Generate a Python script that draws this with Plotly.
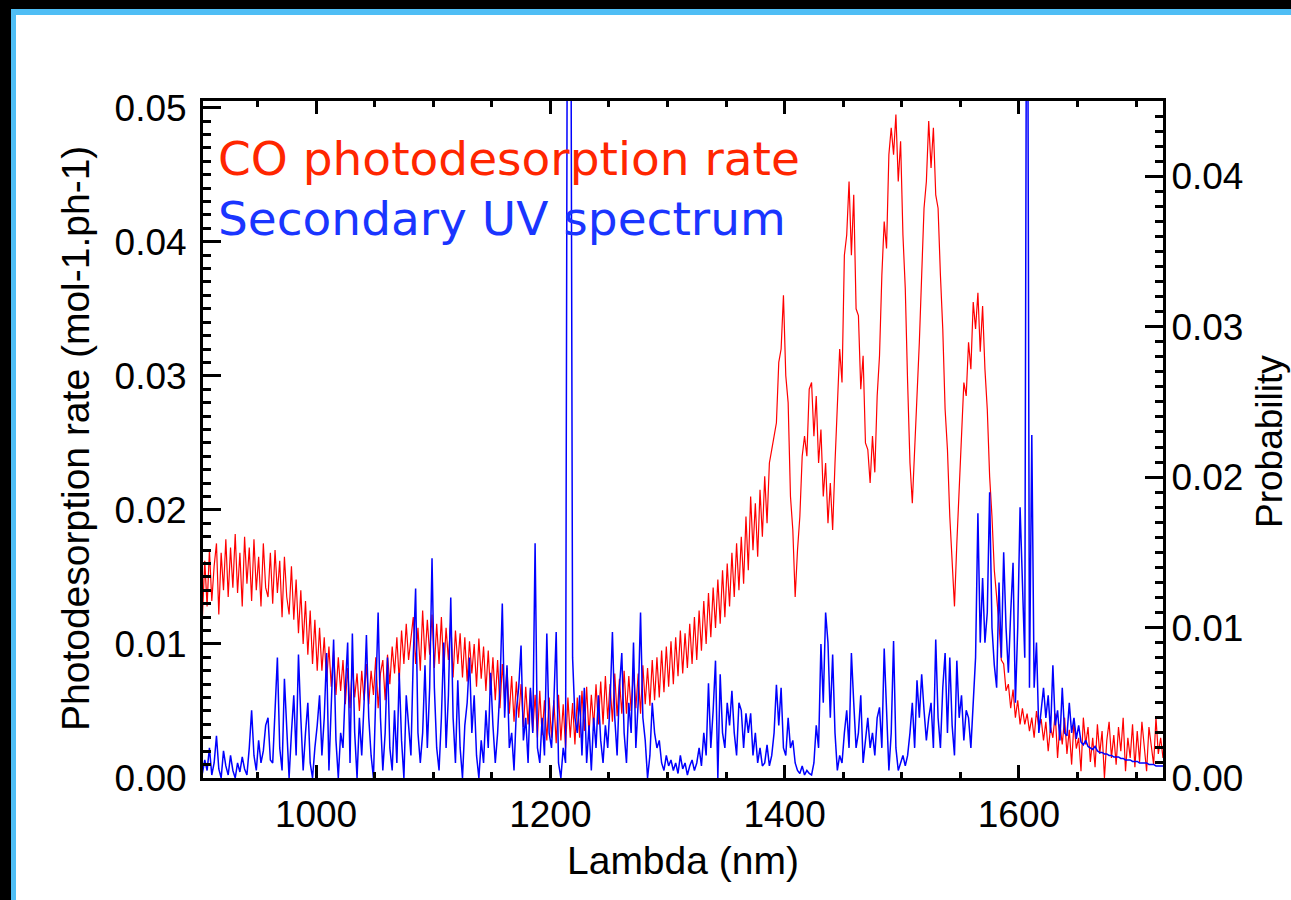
import plotly.graph_objects as go

# ---------------- data ----------------
# CO photodesorption rate, sampled every 2 nm from 903 nm (units of 1e-4 mol-1.ph-1)
RED_START_NM = 903
RED_STEP_NM = 2
red_rate_e4 = [
    120, 162, 128, 170, 132, 158, 175, 122, 168, 140,
    178, 135, 172, 142, 182, 138, 168, 128, 180, 145,
    172, 132, 178, 140, 165, 128, 175, 142, 135, 168,
    130, 170, 138, 162, 120, 165, 135, 122, 158, 118,
    148, 108, 140, 100, 132, 92, 125, 85, 118, 80,
    112, 80, 105, 72, 98, 68, 95, 62, 90, 65,
    88, 55, 82, 52, 85, 60, 78, 50, 80, 58,
    85, 55, 80, 62, 90, 52, 78, 88, 58, 92,
    70, 98, 78, 105, 72, 110, 85, 115, 88, 105,
    120, 85, 112, 80, 125, 88, 118, 92, 122, 82,
    115, 85, 120, 80, 112, 88, 118, 75, 110, 85,
    108, 75, 105, 72, 102, 78, 100, 68, 104, 74,
    98, 65, 95, 62, 90, 58, 88, 52, 85, 58,
    82, 48, 76, 42, 72, 45, 70, 38, 68, 40,
    66, 35, 62, 30, 65, 32, 58, 28, 60, 30,
    58, 26, 62, 28, 55, 22, 60, 30, 56, 25,
    60, 30, 65, 35, 68, 32, 62, 38, 70, 40,
    72, 40, 76, 44, 70, 42, 78, 46, 74, 48,
    80, 48, 76, 50, 82, 52, 78, 48, 84, 55,
    82, 54, 88, 58, 90, 60, 95, 64, 98, 68,
    102, 70, 105, 76, 110, 78, 108, 82, 115, 85,
    120, 88, 125, 95, 132, 100, 138, 105, 142, 112,
    148, 115, 155, 120, 160, 128, 168, 135, 175, 140,
    180, 145, 195, 155, 210, 170, 205, 165, 215, 180,
    225, 190, 235, 245, 255, 265, 310, 320, 360, 300,
    280, 210, 185, 135, 170, 195, 240, 255, 240, 290,
    295, 255, 285, 235, 260, 210, 235, 190, 220, 185,
    235, 275, 320, 295, 390, 405, 445, 390, 435, 350,
    345, 290, 315, 250, 245, 220, 255, 228, 285, 315,
    375, 415, 395, 465, 485, 465, 495, 445, 475, 405,
    365, 295, 235, 205, 245, 275, 325, 375, 425, 445,
    490, 455, 485, 435, 425, 375, 335, 275, 245, 195,
    165, 128, 175, 215, 265, 295, 285, 325, 305, 355,
    335, 362, 318, 352, 305, 275, 225, 195, 155, 135,
    115, 88, 85, 65, 70, 52, 66, 45, 58, 40,
    52, 40, 48, 35, 45, 30, 50, 38, 44, 28,
    42, 20, 38, 30, 48, 15, 40, 25, 45, 18,
    36, 10, 42, 22, 30, 5, 45, 25, 38, 12,
    30, 8, 40, 18, 35, 0, 28, 42, 15, 32,
    10, 38, 20, 45, 5, 30, 15, 40, 8, 35,
    12, 42, 20, 5, 38, 25, 10, 45, 18, 30,
    15,
]

# Secondary UV spectrum, sampled every 2 nm from 903 nm (probability, units of 1e-4)
BLUE_START_NM = 903
BLUE_STEP_NM = 2
blue_prob_e4 = [
    3, 12, 5, 20, 2, 10, 28, 6, 0, 18,
    8, 2, 15, 5, 0, 10, 4, 14, 6, 2,
    20, 45, 15, 5, 25, 10, 18, 35, 40, 12,
    10, 45, 80, 20, 5, 66, 30, 0, 30, 55,
    15, 82, 40, 5, 30, 50, 10, 0, 20, 35,
    55, 15, 40, 83, 5, 45, 92, 25, 0, 30,
    20, 60, 90, 10, 96, 30, 0, 40, 15, 50,
    95, 40, 15, 0, 60, 110, 40, 5, 30, 80,
    20, 5, 45, 10, 70, 25, 0, 55, 35, 15,
    80, 126, 30, 10, 30, 75, 20, 60, 146, 60,
    20, 5, 40, 90, 20, 55, 120, 40, 10, 65,
    20, 0, 35, 50, 80, 30, 55, 15, 0, 25,
    10, 45, 20, 70, 35, 10, 30, 60, 116, 40,
    75, 20, 30, 5, 45, 60, 88, 25, 40, 10,
    60, 30, 156, 20, 10, 40, 15, 96, 30, 20,
    50, 97, 10, 0, 20, 10, 700, 700, 80, 40,
    30, 55, 15, 60, 10, 35, 5, 40, 20, 55,
    25, 10, 35, 20, 50, 97, 40, 15, 60, 83,
    30, 10, 50, 30, 90, 20, 50, 110, 40, 25,
    0, 15, 50, 30, 20, 25, 10, 5, 15, 8,
    12, 5, 10, 3, 15, 6, 10, 2, 8, 12,
    5, 10, 20, 8, 30, 15, 63, 20, 45, 78,
    0, 69, 30, 20, 50, 35, 58, 30, 15, 50,
    45, 20, 43, 30, 43, 15, 30, 10, 20, 8,
    10, 22, 8, 15, 30, 62, 35, 60, 20, 15,
    40, 20, 25, 10, 5, 3, 8, 2, 5, 3,
    2, 10, 35, 20, 89, 50, 110, 90, 40, 82,
    30, 5, 15, 10, 30, 45, 20, 83, 50, 20,
    30, 55, 10, 25, 40, 20, 30, 15, 40, 47,
    20, 86, 40, 5, 30, 91, 20, 5, 10, 15,
    8, 15, 30, 50, 20, 65, 40, 69, 45, 25,
    40, 50, 20, 92, 40, 20, 60, 83, 30, 80,
    35, 15, 78, 40, 55, 25, 45, 40, 20, 50,
    80, 176, 90, 133, 90, 110, 190, 100, 75, 60,
    130, 80, 150, 100, 70, 110, 143, 50, 100, 180,
    130, 80, 700, 60, 228, 60, 90, 30, 45, 60,
    40, 55, 30, 75, 35, 45, 25, 60, 30, 28,
    50, 30, 40, 26, 35, 24, 22, 25, 21, 20,
    19, 21, 18, 17, 17, 16, 16, 15, 15, 14,
    14, 14, 13, 13, 12, 12, 12, 11, 11, 11,
    10, 10, 10, 10, 9, 9, 9, 8, 8, 8,
    8,
]

X_TICKS = [1000, 1200, 1400, 1600]
Y_LEFT_TICKS = [0.00, 0.01, 0.02, 0.03, 0.04, 0.05]
Y_RIGHT_TICKS = [0.00, 0.01, 0.02, 0.03, 0.04]

red_x = [RED_START_NM + RED_STEP_NM * i for i in range(len(red_rate_e4))]
red_y = [v * 1e-4 for v in red_rate_e4]
blue_x = [BLUE_START_NM + BLUE_STEP_NM * i for i in range(len(blue_prob_e4))]
blue_y = [v * 1e-4 for v in blue_prob_e4]

# ---------------- layout geometry (pixels) ----------------
W, H = 1291, 900
PL, PR, PT, PB = 203, 1163, 101, 778  # plot area edges


def px(xpix):
    return (xpix - PL) / (PR - PL)


def py(ypix):
    return (PB - ypix) / (PB - PT)


fig = go.Figure()
fig.add_trace(go.Scatter(x=red_x, y=red_y, mode="lines",
                         line=dict(color="#ff0000", width=1.2),
                         showlegend=False, yaxis="y"))
fig.add_trace(go.Scatter(x=blue_x, y=blue_y, mode="lines",
                         line=dict(color="#0000ff", width=1.5),
                         showlegend=False, yaxis="y2"))

tickfont = dict(family="Liberation Sans, Arial, Helvetica, sans-serif", size=37, color="black")

fig.update_layout(
    width=W, height=H,
    margin=dict(l=PL, r=W - PR, t=PT, b=H - PB, pad=0),
    paper_bgcolor="white", plot_bgcolor="white",
    xaxis=dict(range=[903.5, 1723], tickvals=X_TICKS, ticktext=[str(t) for t in X_TICKS],
               ticks="inside", ticklen=13, tickwidth=3, tickcolor="black",
               minor=dict(dtick=50, tick0=1000, ticks="inside", ticklen=6, tickwidth=3, tickcolor="black"),
               showline=True, linewidth=3, linecolor="black", mirror="ticks",
               showgrid=False, zeroline=False, tickfont=tickfont, ticklabelstandoff=2),
    yaxis=dict(range=[0, 0.0505], tickvals=Y_LEFT_TICKS, ticktext=["%.2f" % t for t in Y_LEFT_TICKS],
               ticks="inside", ticklen=18, tickwidth=3, tickcolor="black",
               minor=dict(dtick=0.001, tick0=0, ticks="inside", ticklen=8, tickwidth=3, tickcolor="black"),
               showline=True, linewidth=3, linecolor="black",
               showgrid=False, zeroline=False, tickfont=tickfont, ticklabelstandoff=6),
    yaxis2=dict(range=[0, 0.045], tickvals=Y_RIGHT_TICKS, ticktext=["%.2f" % t for t in Y_RIGHT_TICKS],
                overlaying="y", side="right",
                ticks="inside", ticklen=18, tickwidth=3, tickcolor="black",
                minor=dict(dtick=0.001, tick0=0, ticks="inside", ticklen=8, tickwidth=3, tickcolor="black"),
                showline=True, linewidth=3, linecolor="black",
                showgrid=False, zeroline=False, tickfont=tickfont, ticklabelstandoff=-2),
)

title_font = dict(family="Liberation Sans, Arial, Helvetica, sans-serif", size=39, color="black")
label_font = "DejaVu Sans, Verdana, sans-serif"

fig.add_annotation(text="Lambda (nm)", xref="paper", yref="paper", x=px(683), y=py(860),
                   xanchor="center", yanchor="middle", showarrow=False, font=title_font)
fig.add_annotation(text="Photodesorption rate (mol-1.ph-1)", xref="paper", yref="paper",
                   x=px(76), y=py(439), textangle=-90, xanchor="center", yanchor="middle",
                   showarrow=False, font=title_font)
fig.add_annotation(text="Probability", xref="paper", yref="paper",
                   x=px(1270), y=py(442), textangle=-90, xanchor="center", yanchor="middle",
                   showarrow=False, font=dict(family=title_font["family"], size=37, color="black"))
fig.add_annotation(text="CO photodesorption rate", xref="paper", yref="paper",
                   x=px(216), y=py(158), xanchor="left", yanchor="middle", showarrow=False,
                   font=dict(family=label_font, size=47, color="#ff2600"))
fig.add_annotation(text="Secondary UV spectrum", xref="paper", yref="paper",
                   x=px(216), y=py(218), xanchor="left", yanchor="middle", showarrow=False,
                   font=dict(family=label_font, size=47, color="#1a35ff"))

# frame: black band and light-blue border along top and left edges
frame = [
    (0, 0, 11, H, "black"),
    (0, 0, W, 9, "black"),
    (11, 9, 16, H, "#4fbef5"),
    (11, 9, W, 15, "#4fbef5"),
]
for x0, y0, x1, y1, c in frame:
    fig.add_shape(type="rect", xref="paper", yref="paper",
                  x0=px(x0), x1=px(x1), y0=py(y1), y1=py(y0),
                  fillcolor=c, line=dict(width=0), layer="above")

fig.write_html("out.html")
